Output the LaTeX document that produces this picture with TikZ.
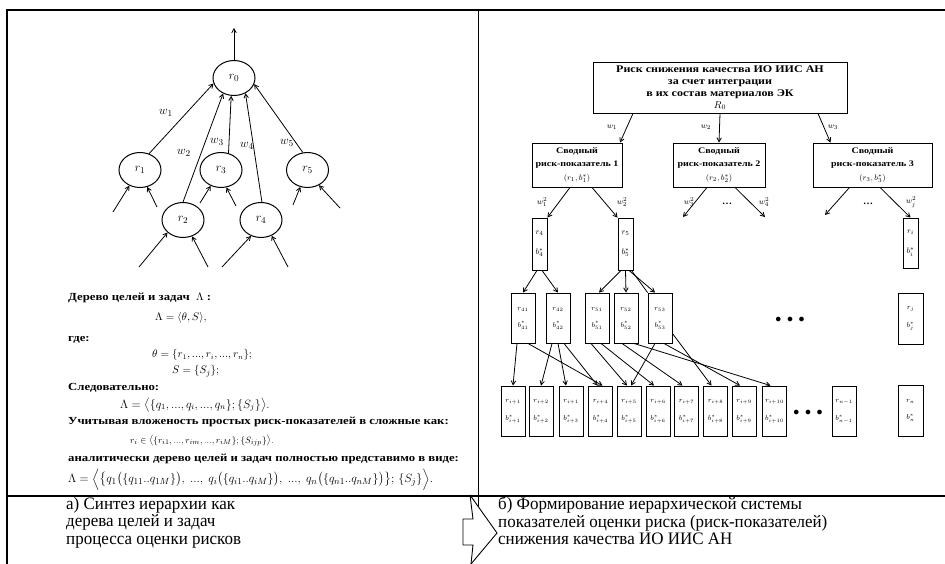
\documentclass[tikz,border=0pt]{standalone}
\usepackage{amsmath}
\usepackage{fontspec}
\setmainfont{Liberation Serif}
\newfontfamily\capfont[FakeStretch=0.97]{Liberation Serif}
\newfontfamily\widefont[FakeStretch=1.18]{Liberation Serif}
\usetikzlibrary{arrows.meta, positioning, shapes.geometric}
\newcommand\dd{{.}{.}{.}}
\tikzset{
  arr/.style={-{Straight Barb[length=4pt,width=4.5pt]}, line width=0.8pt},
  frm/.style={line width=1.3pt},
  ell/.style={ellipse, draw, line width=1pt, minimum width=42pt, minimum height=35pt,
              inner sep=0pt, font=\fontsize{13}{13}\selectfont},
  wlab/.style={inner sep=0pt, font=\fontsize{13}{13}\selectfont},
  txt/.style={anchor=west, inner sep=0pt, font=\widefont\bfseries\fontsize{10.8}{12}\selectfont},
  mth/.style={anchor=west, inner sep=0pt, font=\fontsize{11}{12}\selectfont},
  bigbox/.style={draw, line width=0.9pt, align=center, inner sep=0pt,
                 font=\widefont\bfseries\fontsize{10.2}{12}\selectfont},
  midbox/.style={draw, line width=0.9pt, align=center, inner sep=0pt,
                 font=\widefont\bfseries\fontsize{8.5}{13.5}\selectfont},
  tallbox/.style={draw, line width=0.9pt, align=center, inner sep=0pt,
                  minimum width=15pt, minimum height=52pt, font=\fontsize{8}{8}\selectfont},
  leafbox/.style={draw, line width=0.9pt, align=center, inner sep=0pt,
                  minimum width=24pt, minimum height=50pt, font=\fontsize{7}{7}\selectfont},
  slab/.style={inner sep=0pt, font=\fontsize{8}{8}\selectfont},
  capt/.style={anchor=north west, align=left, inner sep=0pt,
              font=\capfont\fontsize{17.5}{17.5}\selectfont},
}
\begin{document}
\begin{tikzpicture}[x=1pt, y=-1pt]
\useasboundingbox (0,0) rectangle (945,564);
% frame
\draw[frm] (7,564) -- (7,10) -- (945,10);
\draw[frm] (7,496) -- (945,496);
\draw[line width=0.9pt] (478,10) -- (478,507);
\draw[line width=0.9pt] (470,495) -- (497,533) -- (471,564);
\draw[line width=0.9pt] (470,495) -- (473,519) -- (463,519) -- (463,545) -- (473,545) -- (471,564);

% tree of goals
\node[ell] (r0) at (234,78) {$r_0$};
\node[ell] (r1) at (140,170) {$r_1$};
\node[ell] (r2) at (183,220) {$r_2$};
\node[ell] (r3) at (221,170) {$r_3$};
\node[ell] (r4) at (261,220) {$r_4$};
\node[ell] (r5) at (307.5,170) {$r_5$};
\coordinate (up) at (234,28);
\draw[arr] (r0.north) -- (up);
\draw[arr] (r1.61) -- (r0.195);
\draw[arr] (r2.north) -- (r0.235);
\draw[arr] (r3.66) -- (r0.261);
\draw[arr] (r4.87) -- (r0.307);
\draw[arr] (r5.105) -- (r0.343);
\node[wlab] (w1) at (166,113) {$w_1$};
\node[wlab] (w2) at (184,153) {$w_2$};
\node[wlab] (w3) at (217,142) {$w_3$};
\node[wlab] (w4) at (247,146) {$w_4$};
\node[wlab] (w5) at (287,143) {$w_5$};
\foreach \n/\a/\x/\y/\k in {r1/236/113/212/a, r1/293/157/207/b, r3/237/200/203/a, r3/287/236/206/b,
    r5/247/293/205/a, r5/307/340/208/b, r2/219/139/267/a, r2/299/208/267/b,
    r4/238/222/267/a, r4/304/288/267/b} {
  \coordinate (\n-in\k) at (\x,\y);
  \draw[arr] (\n-in\k) -- (\n.\a);
}

% formulas
\node[txt] (t1) at (68,298) {Дерево целей и задач\ \ $\Lambda$ :};
\node[mth] (t2) at (155,318) {$\Lambda=\langle\theta,S\rangle,$};
\node[txt] (t3) at (68,340) {где:};
\node[mth, font=\fontsize{10.5}{12}\selectfont] (t4) at (152,355) {$\theta=\{r_1,\dd,r_i,\dd,r_n\};$};
\node[mth] (t5) at (172,371) {$S=\{S_j\};$};
\node[txt] (t6) at (68,388) {Следовательно:};
\node[mth, font=\fontsize{11.5}{12}\selectfont] (t7) at (120,405) {$\Lambda=\bigl\langle\{q_1,\dd,q_i,\dd,q_n\};\{S_j\}\bigr\rangle.$};
\node[txt] (t8) at (68,422) {Учитывая вложеность простых риск-показателей в сложные как:};
\node[mth, font=\fontsize{9.5}{12}\selectfont] (t9) at (130,441) {$r_i\in\bigl\langle\{r_{i1},\dd,r_{im},\dd,r_{iM}\};\{S_{ijp}\}\bigr\rangle.$};
\node[txt] (t10) at (68,459) {аналитически дерево целей и задач полностью представимо в виде:};
\node[mth, font=\fontsize{13}{12}\selectfont] (t11) at (68,479.5) {$\Lambda=\Bigl\langle\bigl\{q_1\bigl(\{q_{11}..q_{1M}\}\bigr),\;\dd,\;q_i\bigl(\{q_{i1}..q_{iM}\}\bigr),\;\dd,\;q_n\bigl(\{q_{n1}..q_{nM}\}\bigr)\bigr\};\,\{S_j\}\Bigr\rangle.$};

% risk indicators
\node[bigbox, minimum width=254pt, minimum height=51pt] (R0) at (720,87.5)
  {Риск снижения качества ИО ИИС АН\\за счет интеграции\\в их состав материалов ЭК\\$R_0$};
\node[midbox, minimum width=90pt, minimum height=44pt] (s1) at (577,165)
  {Сводный\\риск-показатель 1\\$(r_1,b_1^*)$};
\node[midbox, minimum width=92pt, minimum height=44pt] (s2) at (719,165)
  {Сводный\\риск-показатель 2\\$(r_2,b_2^*)$};
\node[midbox, minimum width=119pt, minimum height=44pt] (s3) at (872.5,165)
  {Сводный\\риск-показатель 3\\$(r_3,b_3^*)$};
\draw[arr] ([xshift=-87pt]R0.south) -- ([xshift=43pt]s1.north);
\draw[arr] (R0.south) -- (s2.north);
\draw[arr] ([xshift=98pt]R0.south) -- ([xshift=-42pt]s3.north);
\node[slab] (lw1) at (612,127) {$w_1$};
\node[slab] (lw2) at (706,127) {$w_2$};
\node[slab] (lw3) at (833,127) {$w_3$};

\node[tallbox] (q4) at (539.5,244) {$r_4$\\[12pt]$b_4^*$};
\node[tallbox] (q5) at (625.5,244) {$r_5$\\[12pt]$b_5^*$};
\node[tallbox, minimum height=50pt] (qi) at (910.5,243) {$r_i$\\[12pt]$b_i^*$};
\coordinate (e3) at (683,217);
\coordinate (e4) at (765,217);
\coordinate (ej) at (825,215);
\draw[arr] ([xshift=-7pt]s1.south) -- (q4.north east);
\draw[arr] ([xshift=15pt]s1.south) -- (q5.north west);
\draw[arr] ([xshift=-12pt]s2.south) -- (e3);
\draw[arr] ([xshift=16pt]s2.south) -- (e4);
\draw[arr] ([xshift=-23pt]s3.south) -- (ej);
\draw[arr] ([xshift=7.5pt]s3.south) -- (qi.north);
\node[slab] (lw12) at (542,202) {$w_1^2$};
\node[slab] (lw22) at (622,202) {$w_2^2$};
\node[slab] (lw32) at (689,202) {$w_3^2$};
\node[slab] (lw42) at (764,202) {$w_4^2$};
\node[slab] (lwj2) at (911,202) {$w_j^2$};
\node[inner sep=0pt, font=\bfseries] (d1) at (727,204) {\dots};
\node[inner sep=0pt, font=\bfseries] (d2) at (868,204) {\dots};

\node[leafbox] (q41) at (523,318) {$r_{41}$\\[10pt]$b_{41}^*$};
\node[leafbox] (q42) at (558,318) {$r_{42}$\\[10pt]$b_{42}^*$};
\node[leafbox] (q51) at (597,318) {$r_{51}$\\[10pt]$b_{51}^*$};
\node[leafbox] (q52) at (626,318) {$r_{52}$\\[10pt]$b_{52}^*$};
\node[leafbox] (q53) at (660,318) {$r_{53}$\\[10pt]$b_{53}^*$};
\node[leafbox, minimum width=25pt, minimum height=51pt] (qj) at (910.5,318.5) {$r_j$\\[10pt]$b_j^*$};
\node[inner sep=0pt, font=\large] (d3) at (790,320) {$\bullet\ \bullet\ \bullet$};
\draw[arr] ([xshift=-2.5pt]q4.south) -- (q41.north);
\draw[arr] ([xshift=2.5pt]q4.south) -- (q42.north);
\draw[arr] ([xshift=-4.5pt]q5.south) -- ([xshift=2pt]q51.north);
\draw[arr] (q5.south) -- (q52.north);
\draw[arr] ([xshift=3.5pt]q5.south) -- ([xshift=-5pt]q53.north);
\draw[line width=0.8pt] ([xshift=6pt]q5.south) -- (q53.north west);

\foreach \x [count=\k] in {513,541,571,600.5,629,658,686.5,715.5,744,774.5} {
  \ifnum\k=3
    \node[leafbox] (l\k) at (\x,411) {$r_{i+1}$\\[10pt]$b_{i+\k}^*$};
  \else
    \node[leafbox] (l\k) at (\x,411) {$r_{i+\k}$\\[10pt]$b_{i+\k}^*$};
  \fi
}
\node[leafbox] (lm) at (844,411) {$r_{n-1}$\\[10pt]$b_{n-1}^*$};
\node[leafbox, minimum width=25pt, minimum height=51pt] (ln) at (910.5,410.5) {$r_n$\\[10pt]$b_n^*$};
\node[inner sep=0pt, font=\large] (d4) at (808,413) {$\bullet\ \bullet\ \bullet$};
\draw[arr] ([xshift=-6pt]q41.south) -- (l1.north);
\draw[arr] ([xshift=5pt]q41.south) -- ([xshift=2pt]l4.north);
\draw[arr] ([xshift=-6pt]q42.south) -- (l2.north);
\draw[arr] (q42.south) -- ([xshift=-5pt]l3.north);
\draw[arr] ([xshift=6pt]q42.south) -- ([xshift=-3pt]l4.north);
\draw[arr] ([xshift=-6pt]q51.south) -- ([xshift=-2pt]l5.north);
\draw[arr] ([xshift=4pt]q51.south) -- ([xshift=-4pt]l6.north);
\draw[arr] ([xshift=-4pt]q52.south) -- ([xshift=-4pt]l7.north);
\draw[arr] ([xshift=8pt]q52.south) -- ([xshift=-4pt]l10.north);
\draw[arr] ([xshift=-5pt]q53.south) -- ([xshift=2pt]l5.north);
\draw[arr] ([xshift=4pt]q53.south) -- ([xshift=-4pt]l9.north);
\draw[arr] ([yshift=10pt]q53.south east) -- ([xshift=-4pt]l8.north);

% captions
\node[capt] (capa) at (66,497) {а) Синтез иерархии как\\дерева целей и задач\\процесса оценки рисков};
\node[capt] (capb) at (498,497) {б) Формирование иерархической системы\\показателей оценки риска (риск-показателей)\\снижения качества ИО ИИС АН};
\end{tikzpicture}
\end{document}
